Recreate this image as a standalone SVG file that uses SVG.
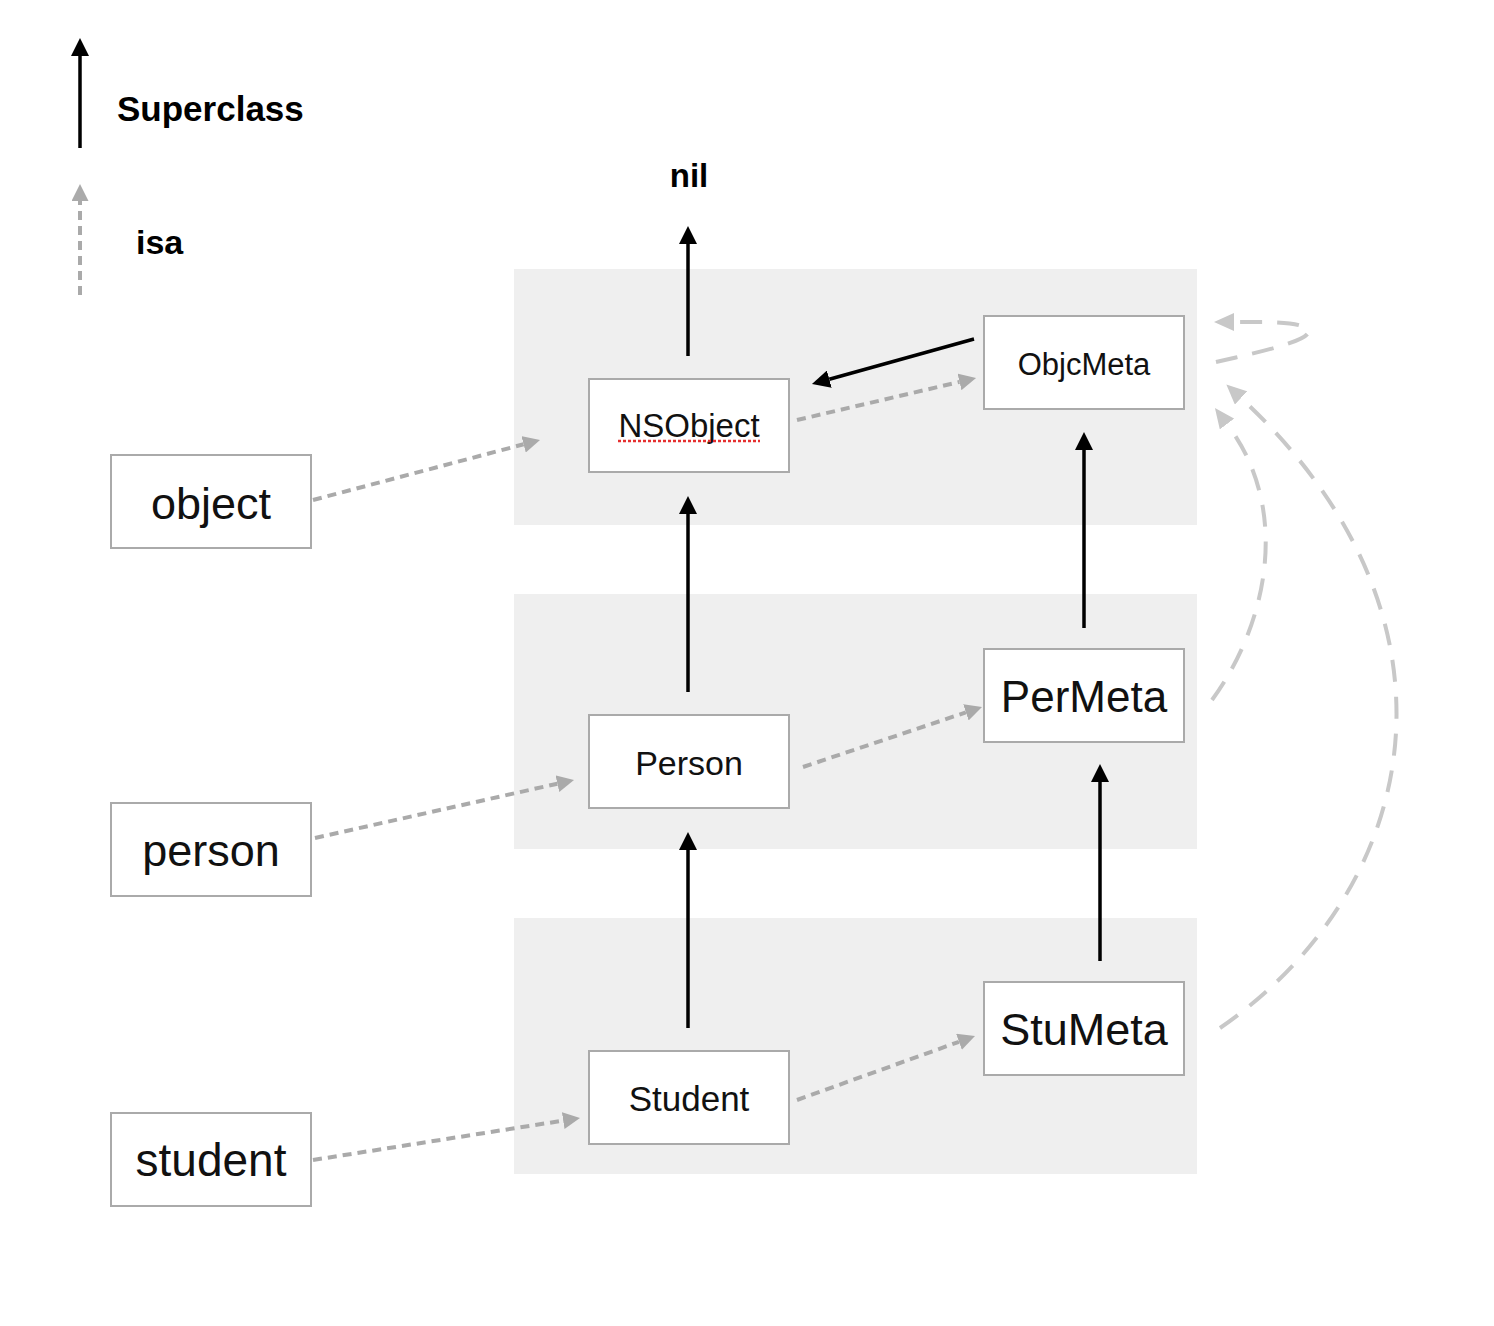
<svg xmlns="http://www.w3.org/2000/svg" width="1494" height="1326" viewBox="0 0 1494 1326">
<style>
.panel{fill:#efefef}
.node rect{fill:#fff;stroke:#aaa;stroke-width:2}
.node text{font-family:"Liberation Sans",Arial,sans-serif;fill:#111;text-anchor:middle}
.label{font-family:"Liberation Sans",Arial,sans-serif;font-weight:bold;fill:#000}
.sup{stroke:#000;stroke-width:3.5;fill:none;marker-end:url(#blk)}
.isa{stroke:#aaa;stroke-width:4;fill:none;stroke-dasharray:9 6;marker-end:url(#gry)}
.meta{stroke:#c8c8c8;stroke-width:4;fill:none;stroke-dasharray:22 15;marker-end:url(#lgt)}
</style>
<defs>
<marker id="blk" markerUnits="userSpaceOnUse" viewBox="0 0 18 18" refX="0" refY="9" markerWidth="18" markerHeight="18" orient="auto"><path d="M0,0 L18,9 L0,18 z" fill="#000"/></marker>
<marker id="gry" markerUnits="userSpaceOnUse" viewBox="0 0 17 17" refX="0" refY="8.5" markerWidth="17" markerHeight="17" orient="auto"><path d="M0,0 L17,8.5 L0,17 z" fill="#aaa"/></marker>
<marker id="lgt" markerUnits="userSpaceOnUse" viewBox="0 0 20 18" refX="0" refY="9" markerWidth="20" markerHeight="18" orient="auto"><path d="M0,0 L20,9 L0,18 z" fill="#c8c8c8"/></marker>
</defs>
<rect width="1494" height="1326" fill="#fff"/>
<g id="panels">
<rect class="panel" x="514" y="269" width="683" height="256"/>
<rect class="panel" x="514" y="594" width="683" height="255"/>
<rect class="panel" x="514" y="918" width="683" height="256"/>
</g>
<g id="legend">
<line class="sup" x1="80" y1="148" x2="80" y2="56"/>
<text class="label" x="117" y="121" font-size="35">Superclass</text>
<line class="isa" x1="80" y1="295" x2="80" y2="201"/>
<text class="label" x="136" y="254" font-size="34">isa</text>
</g>
<g id="nil"><text class="label" x="689" y="187" font-size="33" text-anchor="middle">nil</text></g>
<g id="object" class="node"><rect x="111" y="455" width="200" height="93"/><text x="211" y="519" font-size="45">object</text></g>
<g id="person" class="node"><rect x="111" y="803" width="200" height="93"/><text x="211" y="866" font-size="45">person</text></g>
<g id="student" class="node"><rect x="111" y="1113" width="200" height="93"/><text x="211" y="1176" font-size="46">student</text></g>
<g id="NSObject" class="node"><rect x="589" y="379" width="200" height="93"/><text x="689" y="437" font-size="33">NSObject</text><line x1="618" y1="441" x2="760" y2="441" stroke="#e53030" stroke-width="2.5" stroke-dasharray="3 2"/></g>
<g id="ObjcMeta" class="node"><rect x="984" y="316" width="200" height="93"/><text x="1084" y="375" font-size="31">ObjcMeta</text></g>
<g id="Person" class="node"><rect x="589" y="715" width="200" height="93"/><text x="689" y="775" font-size="34">Person</text></g>
<g id="PerMeta" class="node"><rect x="984" y="649" width="200" height="93"/><text x="1084" y="712" font-size="44">PerMeta</text></g>
<g id="Student" class="node"><rect x="589" y="1051" width="200" height="93"/><text x="689" y="1111" font-size="35">Student</text></g>
<g id="StuMeta" class="node"><rect x="984" y="982" width="200" height="93"/><text x="1084" y="1045" font-size="45">StuMeta</text></g>
<g id="connectors">
<line class="sup" x1="688" y1="356" x2="688" y2="244"/>
<line class="sup" x1="688" y1="692" x2="688" y2="514"/>
<line class="sup" x1="688" y1="1028" x2="688" y2="850"/>
<line class="sup" x1="1084" y1="628" x2="1084" y2="450"/>
<line class="sup" x1="1100" y1="961" x2="1100" y2="782"/>
<line class="sup" x1="974" y1="339" x2="829.3" y2="379.2"/>
<line class="isa" x1="313" y1="500" x2="523.6" y2="444.3"/>
<line class="isa" x1="797" y1="420" x2="959.5" y2="381.9"/>
<line class="isa" x1="315" y1="838" x2="557.4" y2="783.7"/>
<line class="isa" x1="803" y1="767" x2="965.9" y2="712.4"/>
<line class="isa" x1="313" y1="1160" x2="563.2" y2="1120.6"/>
<line class="isa" x1="797" y1="1100" x2="959" y2="1041.8"/>
<path class="meta" d="M1216,362 C1260,352 1314,340 1308,330 C1300,321 1270,322 1234,322"/>
<path class="meta" d="M1212,700 C1267,625 1292,510 1227,424"/>
<path class="meta" d="M1220,1028 C1420,890 1480,620 1241,398"/>
</g>
</svg>
